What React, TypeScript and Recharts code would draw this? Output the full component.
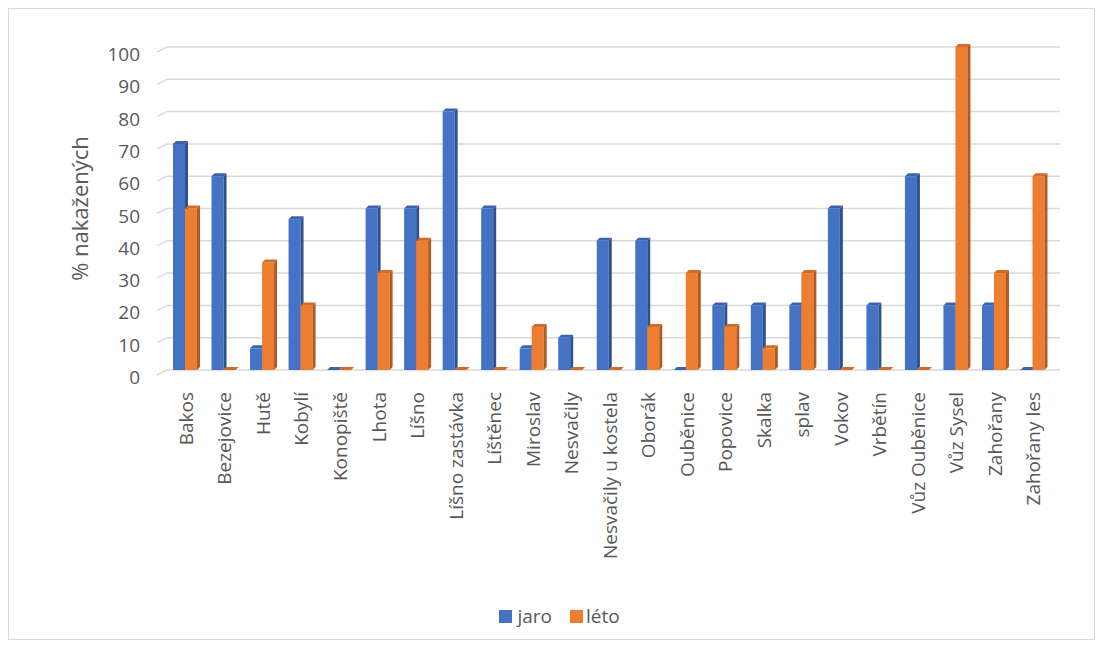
import { BarChart, Bar, XAxis, YAxis, CartesianGrid, Legend } from 'recharts';

const locations = [
  'Bakos', 'Bezejovice', 'Hutě', 'Kobylí', 'Konopiště', 'Lhota', 'Líšno',
  'Líšno zastávka', 'Líštěnec', 'Miroslav', 'Nesvačily', 'Nesvačily u kostela',
  'Oborák', 'Ouběnice', 'Popovice', 'Skalka', 'splav', 'Vokov', 'Vrbětín',
  'Vůz Ouběnice', 'Vůz Sysel', 'Zahořany', 'Zahořany les'
];
const jaro = [70, 60, 6.7, 46.7, 0, 50, 50, 80, 50, 6.7, 10, 40, 40, 0, 20, 20, 20, 50, 20, 60, 20, 20, 0];
const leto = [50, 0, 33.3, 20, 0, 30, 40, 0, 0, 13.3, 0, 0, 13.3, 30, 13.3, 6.7, 30, 0, 0, 0, 100, 30, 60];
const yTicks = [0, 10, 20, 30, 40, 50, 60, 70, 80, 90, 100];

const FONT = '"Open Sans", "Noto Sans", sans-serif';
const TEXT = '#595959';
const GRID = '#d9d9d9';

const palette = {
  jaro: { front: '#4472C4', side: '#2F528F', top: '#3A64B0' },
  leto: { front: '#ED7D31', side: '#AE5A21', top: '#D36B26' },
};

const data = locations.map((name, i) => ({ name, jaro: jaro[i], leto: leto[i] }));

// fake 3D column: front face + dark side + top cap
function makeBar3D(colors: { front: string; side: string; top: string }) {
  return (props: any) => {
    const { x, y, width, height } = props;
    if (x == null || y == null) return null;
    const d = 3;
    const fw = width - d;
    const h = Math.max(0, height);
    return (
      <g>
        <rect x={x} y={y} width={fw} height={h} fill={colors.front} />
        <polygon
          points={`${x + fw},${y} ${x + width},${y - d} ${x + width},${y + h - d} ${x + fw},${y + h}`}
          fill={colors.side}
        />
        <polygon
          points={`${x},${y} ${x + d},${y - d} ${x + width},${y - d} ${x + fw},${y}`}
          fill={colors.top}
        />
      </g>
    );
  };
}

const GridLine = (props: any) => {
  const { x1, y1, x2, y2 } = props;
  return (
    <g key={props.key}>
      <line x1={x1 - 10} y1={y1 + 5} x2={x1} y2={y1} stroke={GRID} strokeWidth={1.5} />
      <line x1={x1} y1={y1} x2={x2} y2={y2} stroke={GRID} strokeWidth={1.5} />
    </g>
  );
};

const YTick = (props: any) => {
  const { y, payload } = props;
  return (
    <text x={131} y={y + 9} textAnchor="end" dominantBaseline="middle" fill={TEXT} fontSize={19} fontFamily={FONT}>
      {payload.value}
    </text>
  );
};

const XTick = (props: any) => {
  const { x, y, payload } = props;
  return (
    <g transform={`translate(${x},${y})`}>
      <text x={-14} y={0} dy="0.35em" transform="rotate(-90)" textAnchor="end" fill={TEXT} fontSize={19} fontFamily={FONT}>
        {payload.value}
      </text>
    </g>
  );
};

const LegendContent = () => (
  <div style={{ display: 'flex', justifyContent: 'center', alignItems: 'center', height: 26, paddingLeft: 50, fontFamily: FONT, fontSize: 19, color: TEXT }}>
    <span style={{ display: 'inline-block', width: 13, height: 13, background: palette.jaro.front, marginRight: 5 }} />
    <span style={{ marginRight: 18 }}>jaro</span>
    <span style={{ display: 'inline-block', width: 13, height: 13, background: palette.leto.front, marginRight: 3 }} />
    <span>léto</span>
  </div>
);

export default function App() {
  return (
    <div style={{ width: 1085, height: 630, border: `1px solid ${GRID}`, background: '#fff' }}>
      <BarChart
        width={1085}
        height={630}
        data={data}
        margin={{ top: 38, right: 34, left: 0, bottom: 10 }}
        barSize={15}
        barGap={-3}
      >
        <CartesianGrid vertical={false} horizontal={GridLine} />
        <XAxis
          dataKey="name"
          interval={0}
          height={233}
          axisLine={false}
          tickLine={false}
          tick={<XTick />}
          padding={{ left: 0, right: 7 }}
        />
        <YAxis
          width={158}
          domain={[0, 100]}
          ticks={yTicks}
          axisLine={false}
          tickLine={false}
          tick={<YTick />}
          label={{
            value: '% nakažených',
            angle: -90,
            position: 'insideLeft',
            dx: 66,
            dy: 0,
            style: { fill: TEXT, fontSize: 22, fontFamily: FONT, textAnchor: 'middle' },
          }}
        />
        <Legend verticalAlign="bottom" content={<LegendContent />} />
        <Bar dataKey="jaro" name="jaro" fill={palette.jaro.front} shape={makeBar3D(palette.jaro)} isAnimationActive={false} />
        <Bar dataKey="leto" name="léto" fill={palette.leto.front} shape={makeBar3D(palette.leto)} isAnimationActive={false} />
      </BarChart>
    </div>
  );
}
